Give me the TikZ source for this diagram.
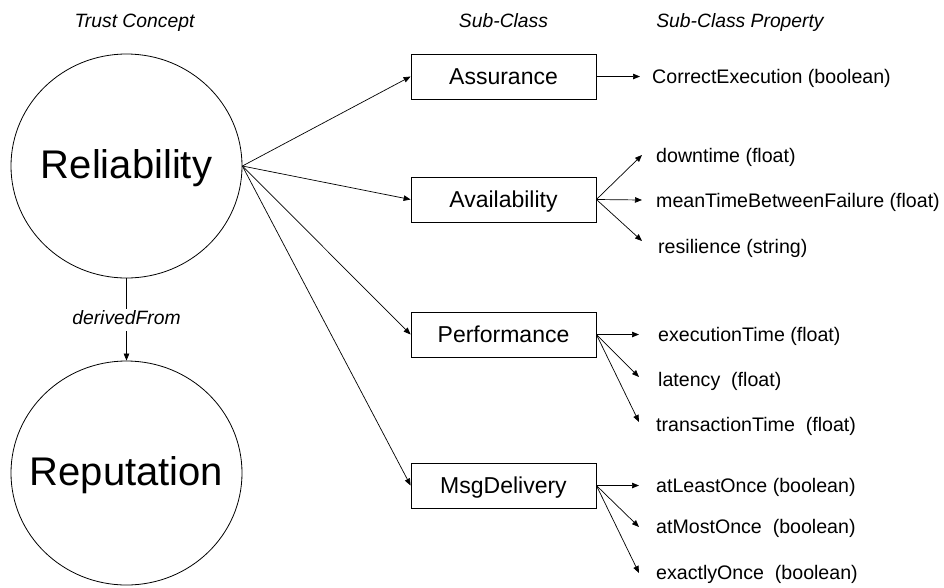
\documentclass[tikz,border=0pt]{standalone}
\usepackage{fontspec}
\setmainfont{Liberation Sans}
\usetikzlibrary{arrows.meta,shapes.geometric}
\begin{document}
\begin{tikzpicture}[x=1pt,y=-1pt,
  every node/.style={inner sep=0pt},
  conceptnode/.style={draw, ellipse, line width=0.8pt, minimum width=231pt, minimum height=224pt},
  conceptlabel/.style={anchor=base, font=\fontsize{40}{48}\selectfont},
  classbox/.style={draw, rectangle, line width=0.8pt, minimum width=185pt, minimum height=45pt,
    font=\fontsize{23}{27}\selectfont, text height=16.5pt, text depth=0pt},
  proptext/.style={anchor=west, font=\fontsize{19.6}{23}\selectfont, text height=14.1pt, text depth=0pt},
  header/.style={anchor=base, font=\fontsize{19.3}{23}\selectfont\itshape},
  link/.style={line width=0.7pt, -{Triangle[length=7pt,width=5.5pt]}},
]
\useasboundingbox (0,0) rectangle (944,587);

% column headings
\node[header] (hconcept) at (134.5,27) {Trust Concept};
\node[header] (hclass) at (503.5,27) {Sub-Class};
\node[header] (hprop) at (740,27) {Sub-Class Property};

% trust concepts
\node[conceptnode] (rel) at (126.5,166) {};
\node[conceptlabel] (reltext) at ([yshift=-12pt]rel.center) {Reliability};
\node[conceptnode] (rep) at (126.5,473) {};
\node[conceptlabel] (reptext) at ([yshift=-12pt]rep.center) {Reputation};

\draw[link] (rel.south) -- node[fill=white, inner sep=2pt, font=\fontsize{19.3}{23}\selectfont\itshape, text height=14pt, text depth=4pt] (dlabel) {derivedFrom} (rep.north);

% sub-classes
\node[classbox] (ass) at (503.5,76.5) {Assurance};
\node[classbox] (avail) at (503.5,199.5) {Availability};
\node[classbox] (perf) at (503.5,334.5) {Performance};
\node[classbox] (msg) at (503.5,485.5) {MsgDelivery};

\foreach \c in {ass,avail,perf,msg}
  \draw[link] (rel.east) -- (\c.west);

% properties
\node[proptext] (p1) at (652,76.5) {CorrectExecution (boolean)};
\node[proptext] (p2) at (656,155) {downtime (float)};
\node[proptext] (p3) at (656,200) {meanTimeBetweenFailure (float)};
\node[proptext] (p4) at (658,246) {resilience (string)};
\node[proptext] (p5) at (658,334.5) {executionTime (float)};
\node[proptext] (p6) at (658,379) {latency\ \ (float)};
\node[proptext] (p7) at (656,424) {transactionTime\ \ (float)};
\node[proptext] (p8) at (656,485.5) {atLeastOnce (boolean)};
\node[proptext] (p9) at (656,526) {atMostOnce\ \ (boolean)};
\node[proptext] (p10) at (656,572) {exactlyOnce\ \ (boolean)};

% arrow tips in front of the property names
\coordinate (t1) at (640,76.5);
\coordinate (t2) at (642,155);
\coordinate (t3) at (642,200);
\coordinate (t4) at (642,241);
\coordinate (t5) at (639,334.5);
\coordinate (t6) at (639,377);
\coordinate (t7) at (639,422);
\coordinate (t8) at (639,485.5);
\coordinate (t9) at (639,527);
\coordinate (t10) at (639,573);

\draw[link] (ass.east) -- (t1);
\foreach \t in {t2,t3,t4} \draw[link] (avail.east) -- (\t);
\foreach \t in {t5,t6,t7} \draw[link] (perf.east) -- (\t);
\foreach \t in {t8,t9,t10} \draw[link] (msg.east) -- (\t);
\end{tikzpicture}
\end{document}
